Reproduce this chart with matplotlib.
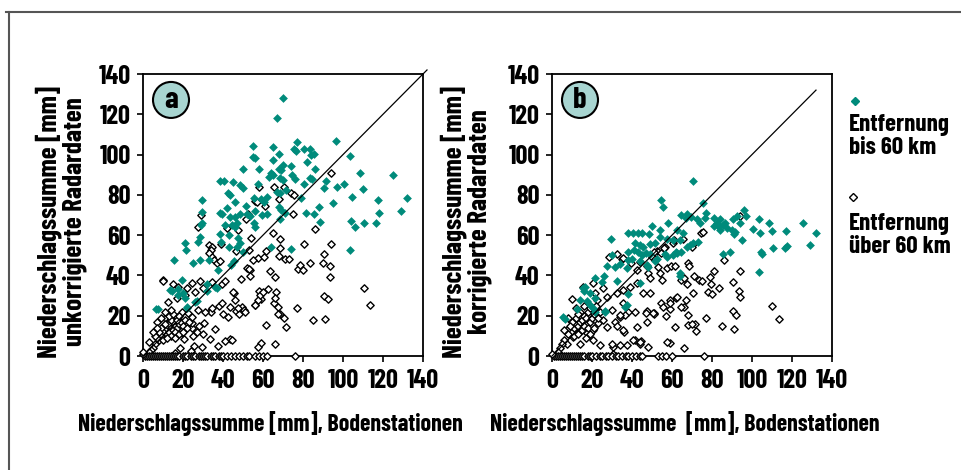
import os
import numpy as np
import matplotlib
matplotlib.use("Agg")
import matplotlib.pyplot as plt
from matplotlib.patches import Ellipse
from matplotlib.lines import Line2D
from matplotlib import font_manager

# ── Data ──────────────────────────────────────────────────────────────────────
TEAL = "#008b7b"

# panel a: uncorrected radar vs ground stations, distance <= 60 km
a_near = [
    (70, 128), (67, 118), (96.5, 106.5), (77, 106), (80.5, 103), (83.5, 103), (75.5, 103),
    (76.5, 102), (65, 104), (55, 104.5), (68, 100.5), (55, 99), (56, 98.5), (84, 100),
    (85.5, 100.5), (103.5, 99.5), (65, 97.5), (82, 96.5), (50, 93), (58, 93), (70, 95),
    (74, 94.5), (68, 93), (69, 92.5), (86, 93), (64, 91), (63, 89), (65, 90), (68.5, 88.5),
    (70, 87.5), (74.5, 90), (76, 88), (83.5, 88.5), (84.5, 88), (80.5, 85.5), (91.5, 87),
    (90.5, 83.5), (108.5, 91), (125, 90), (38.5, 87), (40.5, 87), (45, 86.5), (48.5, 85),
    (50, 83.5), (57.5, 85.5), (97, 84), (100.5, 85.5), (110, 83), (42.5, 81), (43.5, 80),
    (29.5, 77.5), (46, 76.5), (51.5, 74.5), (55.5, 78.5), (59, 78), (60.5, 76.5), (62, 79),
    (67, 81.5), (68.5, 81), (71.5, 82.5), (79, 78.5), (88, 74), (95, 76), (104.5, 79),
    (117.5, 77.5), (132, 78.5), (29.5, 71.5), (38.5, 71), (39.5, 70.5), (42, 73.5),
    (43.5, 69), (46, 69), (48.5, 70.5), (52, 70.5), (53.5, 69.5), (56, 72), (59.5, 70),
    (62, 70.5), (68, 74), (69, 72.5), (71, 71), (81.5, 71), (85.5, 70.5), (118, 71),
    (129, 72), (29.5, 66), (29, 65), (41, 65), (44.5, 65), (46, 64), (47, 66), (55.5, 66),
    (56, 64), (68.5, 68), (88.5, 66.5), (104, 67), (106, 64), (110.5, 66), (116.5, 66),
    (28.5, 59), (27.5, 56.5), (38.5, 60.5), (43, 60), (47.5, 58.5), (48.5, 56), (21, 56),
    (21.5, 52.5), (39, 56.5), (43, 54), (47, 54), (50, 51.5), (64, 54), (74, 53),
    (103.5, 52.5), (15.5, 47.5), (25, 46), (28.5, 47.5), (33, 47.5), (37.5, 42.5), (44, 45),
    (45.5, 47), (19.5, 37.5), (14.5, 32.5), (17.5, 33.5), (22, 24), (27, 27.5), (32, 32.5),
    (37, 34), (6.5, 23.5), (21, 29), (13.5, 33), (17.5, 30.5), (20, 31.5), (7.5, 23.5),
    (22, 24.5), (26, 27), (32, 35.5), (36, 34.5),
]

# panel a: distance > 60 km
a_far = [
    (94, 91), (58, 84), (65.5, 84), (70.5, 84), (74, 81), (75.5, 80), (56, 77), (57, 76.5),
    (61, 74.5), (68, 78), (75, 70.5), (52.5, 70.5), (51.5, 68), (29, 70), (27.5, 64),
    (42, 63.5), (47.5, 62.5), (65, 61), (68.5, 58), (86, 63), (54, 58.5), (39, 55.5),
    (33, 55), (34.5, 54), (34, 52.5), (33, 51), (34.5, 49), (35.5, 47.5), (37, 46),
    (38.5, 47), (46.5, 52), (53, 52.5), (61.5, 52), (80.5, 55.5), (94, 55.5), (90.5, 50.5),
    (90, 46), (93.5, 44.5), (93.5, 39), (68.5, 53.5), (68, 49.5), (71, 48), (73, 48),
    (57.5, 48.5), (60.5, 49), (55, 47.5), (52, 43.5), (53.5, 42.5), (53, 43), (63.5, 42),
    (49, 38), (53.5, 39.5), (66, 39), (77.5, 43), (78.5, 45), (80, 42.5), (83.5, 46),
    (45.5, 31.5), (58, 32.5), (59, 28.5), (57.5, 28), (56, 25.5), (62.5, 33.5), (66.5, 32),
    (65.5, 26.5), (66, 29), (67.5, 24.5), (68.5, 21), (67.5, 21), (70.5, 19), (71.5, 14.5),
    (61.5, 15.5), (77, 24), (85, 18), (91, 18.5), (90.5, 30), (92.5, 28.5), (110.5, 34),
    (113.5, 25.5), (49.5, 24.5), (50.5, 23), (46.5, 22.5), (48, 21), (42.5, 19.5), (38, 25),
    (36, 13.5), (30.5, 16.5), (33.5, 22.5), (34, 22), (40, 21), (59, 6.5), (57.5, 4.5),
    (66, 6), (43.5, 8.5), (44.5, 8), (41, 7.5), (33.5, 8.5), (37.5, 5), (29.5, 4.5),
    (24.5, 14), (24.5, 16.5), (19.5, 11.5), (20.5, 8.5), (25.5, 5), (24, 2.5), (18.5, 4),
    (16, 1.5), (10, 37.5), (10, 37), (15, 35.5), (17.5, 34.5), (22, 34), (24.5, 36),
    (28.5, 37), (34.5, 36.5), (39.5, 35.5), (41, 37), (12.5, 27), (17, 29), (21, 30.5),
    (26, 32), (30, 34), (7, 17), (11, 19), (13.5, 18), (17, 19.5), (19.5, 22), (22.5, 21.5),
    (24.5, 19.5), (27.5, 23), (31, 22), (34.5, 24), (39.5, 26.5), (43.5, 24.5), (46, 28),
    (47.5, 24), (51, 22), (56, 25.5), (58.5, 30.5), (60, 32), (45, 32),
    (12, 15), (13, 16), (14, 14), (15, 17), (16, 15), (14, 18), (11, 13), (10, 12), (9, 10),
    (12, 11), (13, 12), (15, 13), (17, 14), (16, 12), (18, 16), (19, 17), (14, 10), (8, 8),
    (6, 6), (5, 4), (7, 9), (10, 8), (11, 16), (13, 20), (15, 21), (17, 18), (18, 20),
    (20, 15), (21, 18), (12, 9), (9, 14), (8, 12), (4, 3), (3, 2), (6, 10), (16, 9),
    (18, 11), (20, 12), (22, 14), (23, 17), (11, 22), (9, 19), (14, 23), (25, 10), (27, 12),
    (28, 15), (30, 11), (3, 7), (5, 12), (7, 14),
    (1, 0), (2, 0), (3, 0), (4, 0), (5, 0), (6, 0), (7, 0), (8, 0), (9, 0), (10, 0), (11, 0),
    (12, 0), (13, 0), (14, 0), (15, 0), (16, 0), (17, 0), (18, 0), (20, 0), (21, 0), (22, 0),
    (24, 0), (25, 0), (26, 0), (28, 0), (29, 0), (30, 0), (31, 0), (32, 0), (34, 0), (35, 0),
    (36, 0), (38, 0), (39, 0), (40, 0), (42, 0), (44, 0), (46, 0), (48, 0), (50, 0), (52, 0),
    (53, 0), (56, 0), (58, 0), (60, 0), (62, 0), (76, 0), (0, 1), (0, 2),
]

# panel b: corrected radar vs ground stations, distance <= 60 km
b_near = [
    (70.5, 87), (75.5, 76), (54.5, 77.5), (55.5, 74), (29.5, 58), (30, 50), (64.5, 70),
    (67.5, 70.5), (69.5, 69), (67, 68.5), (77, 71), (76.5, 68.5), (72.5, 68), (74, 66),
    (81, 68.5), (82.5, 66), (84, 68), (83, 64.5), (85.5, 65), (86.5, 66), (87.5, 63.5),
    (81, 64.5), (84, 62.5), (90.5, 68), (92.5, 69.5), (96, 72.5), (97, 69.5), (94, 66),
    (95, 57.5), (100.5, 63), (104, 61), (103.5, 68), (108.5, 66), (110, 62), (104.5, 51.5),
    (105, 50.5), (110.5, 53.5), (117, 62), (117.5, 54.5), (116.5, 53.5), (125.5, 66),
    (129, 55), (132, 61), (103.5, 41.5), (85.5, 50.5), (89, 51.5), (91, 60.5), (91.5, 61.5),
    (90, 62.5), (50, 64.5), (54, 62.5), (58, 66), (38, 61), (40.5, 61), (43, 61), (45, 61),
    (48.5, 60.5), (54, 59), (57.5, 58), (41.5, 56), (44, 55), (45.5, 54), (49, 55.5),
    (51.5, 56), (60.5, 57.5), (64, 57.5), (62.5, 62.5), (65.5, 61), (38, 51.5), (41, 52.5),
    (43, 51.5), (45, 50), (47, 51), (56.5, 50.5), (57.5, 49), (60.5, 50), (62.5, 51),
    (64.5, 51.5), (67.5, 54), (69, 55), (70.5, 56), (73, 56.5), (62, 51.5), (38, 47.5),
    (40, 48), (44, 47), (47.5, 45), (48, 44), (49, 50.5), (64, 41), (64, 39.5), (51.5, 47),
    (52.5, 48), (31.5, 44), (34, 45.5), (37.5, 43.5), (27.5, 44.5), (26, 39.5), (21.5, 38.5),
    (25, 36.5), (16, 32.5), (15.5, 34), (17.5, 27.5), (12.5, 23.5), (6.5, 18.5), (20.5, 24),
    (19, 25.5), (21.5, 22), (26.5, 22.5), (38, 31), (36.5, 24.5), (32.5, 37),
    (16.5, 34.5), (19, 31.2), (21.5, 28.7), (14, 27.8), (5.7, 19.5), (26.5, 22), (37.3, 25.3),
    (44, 36.2),
]

# panel b: distance > 60 km
b_far = [
    (94, 69.5), (74.5, 61), (75.5, 61.5), (65.5, 58), (70.5, 55.5), (70, 54), (56.5, 54),
    (56, 53.5), (60.5, 56), (61, 57.5), (52.5, 52), (54.5, 51), (51, 51.5), (50, 49),
    (51.5, 48), (28.5, 49), (32.5, 50.5), (35, 48), (35.5, 48.5), (39.5, 46), (42.5, 42.5),
    (44, 46.5), (47.5, 44.5), (48, 41), (49, 38.5), (53, 44), (54, 41), (55, 37.5),
    (57.5, 43.5), (59.5, 44.5), (61.5, 44.5), (68, 46), (68.5, 44.5), (64.5, 37.5),
    (66, 38.5), (67.5, 35.5), (71, 39.5), (73.5, 37.5), (75, 37), (79, 39), (79.5, 35.5),
    (81, 42), (86, 47.5), (94, 42), (90.5, 36.5), (93.5, 32.5), (94, 29.5), (78, 32), (80, 31),
    (83.5, 34), (70.5, 31.5), (67, 28), (66, 24.5), (64.5, 24.5), (68, 20.5), (62, 29),
    (62.5, 29.5), (59, 28), (59, 23.5), (57, 20), (54.5, 26.5), (51, 21.5), (51, 21),
    (47.5, 22.5), (47, 21.5), (41.5, 22), (38, 22), (34, 19.5), (36.5, 20.5), (31.5, 17),
    (32.5, 15), (36, 12), (37.5, 5.5), (34, 5.5), (30.5, 4.5), (30.5, 1), (41.5, 8),
    (44.5, 7.5), (44, 6), (48, 4.5), (61.5, 14.5), (59, 6.5), (66, 4), (68, 15.5), (72, 12.5),
    (71.5, 16), (70, 16), (77, 19), (85, 15), (91, 13.5), (90.5, 22.5), (92, 20.5), (110, 25),
    (113.5, 18.5), (10, 28.5),
    (15.7, 34.5), (20.7, 36.2), (25.7, 33.7), (21.5, 31.2), (17.3, 26.2), (22.3, 27.8),
    (27.3, 29.5), (32.3, 31.2), (35.7, 32.8), (39, 34.5), (42.3, 36.2), (45.7, 31.2),
    (49, 31.2), (35.7, 26.2), (29.8, 22.8), (34, 20.3), (25.7, 17.8), (23.2, 16.2),
    (27.3, 14.5), (20.7, 12.8), (17.3, 11.2), (14, 12.8), (10.7, 9.5), (7.3, 12.8), (7.3, 6.2),
    (14, 6.2), (20.7, 7.8), (35.7, 12.8), (42.3, 14.5), (47.3, 17), (50.7, 21.2), (55.7, 24.5),
    (59, 26.2), (40.7, 7.8), (44, 7), (29.8, 6.2), (24, 5.3), (57.3, 7),
    (10, 12), (11, 14), (12, 16), (13, 15), (14, 17), (15, 18), (16, 20), (17, 19), (18, 22),
    (12, 19), (10, 17), (9, 15), (8, 11), (6, 8), (5, 6), (4, 4), (3, 2), (11, 10), (13, 11),
    (15, 13), (16, 15), (18, 14), (19, 17), (20, 19), (21, 21), (14, 22), (12, 24), (16, 25),
    (19, 24), (22, 25), (23, 19), (24, 22), (17, 9), (19, 11), (21, 14), (6, 13), (8, 19),
    (13, 21),
    (1, 0), (2, 0), (3, 0), (4, 0), (5, 0), (6, 0), (7, 0), (8, 0), (9, 0), (10, 0), (11, 0),
    (12, 0), (13, 0), (14, 0), (15, 0), (16, 0), (18, 0), (19, 0), (20, 0), (22, 0), (24, 0),
    (25, 0), (27, 0), (28, 0), (30, 0), (32, 0), (33, 0), (35, 0), (37, 0), (38, 0), (40, 0),
    (42, 0), (44, 0), (45, 0), (53, 0), (55, 0), (57, 0), (60, 0), (76, 0), (0, 1),
]

# 1:1 reference lines (end points as drawn)
diag_a = [0, 142]
diag_b = [0, 132]

ticks = [0, 20, 40, 60, 80, 100, 120, 140]
xlabel_a = "Niederschlagssumme [mm], Bodenstationen"
xlabel_b = "Niederschlagssumme  [mm], Bodenstationen"
ylabel_a = "Niederschlagssumme [mm]\nunkorrigierte Radardaten"
ylabel_b = "Niederschlagssumme [mm]\nkorrigierte Radardaten"
legend_near = "Entfernung\nbis 60 km"
legend_far = "Entfernung\nüber 60 km"

# ── Fonts: a condensed bold sans, like the original ──────────────────────────
PREFERRED = ["BarlowCondensed-Bold.ttf", "RobotoCondensed-Bold.ttf",
             "IBMPlexSansCondensed-Bold.ttf", "DejaVuSansCondensed-Bold.ttf"]
by_file = {os.path.basename(f.fname): f for f in font_manager.fontManager.ttflist}
FONT = "DejaVu Sans"
for fn in PREFERRED:
    if fn in by_file:
        FONT = by_file[fn].name
        break
plt.rcParams["font.family"] = [FONT, "DejaVu Sans"]
plt.rcParams["font.weight"] = "bold"

W, H = 961, 470
fig = plt.figure(figsize=(W / 100, H / 100), dpi=100)


def px_axes(left, top, right, bottom):
    return fig.add_axes([left / W, 1 - bottom / H, (right - left) / W, (bottom - top) / H])


def draw_panel(ax, near, far, diag, letter):
    near = np.array(near)
    far = np.array(far)
    ax.scatter(far[:, 0], far[:, 1], marker="D", s=14, facecolors="white",
               edgecolors="black", linewidths=1.0, clip_on=False, zorder=3)
    ax.scatter(near[:, 0], near[:, 1], marker="D", s=20, color=TEAL,
               linewidths=0, clip_on=False, zorder=4)
    ax.plot(diag, diag, color="black", linewidth=0.9, clip_on=False, zorder=5)
    ax.set_xlim(0, 140)
    ax.set_ylim(0, 140)
    ax.set_xticks(ticks)
    ax.set_yticks(ticks)
    ax.tick_params(axis="both", direction="out", length=4, width=1.2,
                   labelsize=19, pad=5)
    for lab in ax.get_xticklabels() + ax.get_yticklabels():
        lab.set_fontweight("bold")
    for sp in ax.spines.values():
        sp.set_linewidth(1.3)
    # panel letter in a circle
    w = 36 / ax.bbox.width
    h = 36 / ax.bbox.height
    ax.add_patch(Ellipse((0.10, 0.908), w, h, transform=ax.transAxes,
                         facecolor="#a8d5d1", edgecolor="black", linewidth=1.5,
                         zorder=6, clip_on=False))
    ax.text(0.10, 0.905, letter, transform=ax.transAxes, ha="center", va="center",
            fontsize=22, fontweight="bold", zorder=7)


ax_a = px_axes(143, 74, 423, 356)
ax_b = px_axes(552, 74, 832, 356)
draw_panel(ax_a, a_near, a_far, diag_a, "a")
draw_panel(ax_b, b_near, b_far, diag_b, "b")

# axis titles
fig.text(270 / W, 1 - 423 / H, xlabel_a, ha="center", va="center", fontsize=17.2, fontweight="bold")
fig.text(685 / W, 1 - 423 / H, xlabel_b, ha="center", va="center", fontsize=17.2, fontweight="bold")
fig.text(61 / W, 1 - 222 / H, ylabel_a, ha="center", va="center", rotation=90,
         fontsize=19.5, fontweight="bold", linespacing=1.0)
fig.text(466 / W, 1 - 222 / H, ylabel_b, ha="center", va="center", rotation=90,
         fontsize=19.5, fontweight="bold", linespacing=1.0)

# legend (drawn by hand to match the layout)
fig.add_artist(Line2D([855 / W], [1 - 101 / H], marker="D", markersize=4.5,
                      color=TEAL, linestyle="none"))
fig.text(849 / W, 1 - 114 / H, legend_near, ha="left", va="top", fontsize=18,
         fontweight="bold", linespacing=1.05)
fig.add_artist(Line2D([853 / W], [1 - 197 / H], marker="D", markersize=4,
                      markerfacecolor="white", markeredgecolor="black",
                      markeredgewidth=1.0, linestyle="none"))
fig.text(849 / W, 1 - 213 / H, legend_far, ha="left", va="top", fontsize=18,
         fontweight="bold", linespacing=1.05)

# outer frame (top and left edges only are visible)
fig.add_artist(Line2D([6 / W, 1], [1 - 12 / H, 1 - 12 / H], color="#555555", linewidth=1.5))
fig.add_artist(Line2D([9 / W, 9 / W], [0, 1 - 12 / H], color="#555555", linewidth=1.5))

fig.savefig("out.png", dpi=100)
